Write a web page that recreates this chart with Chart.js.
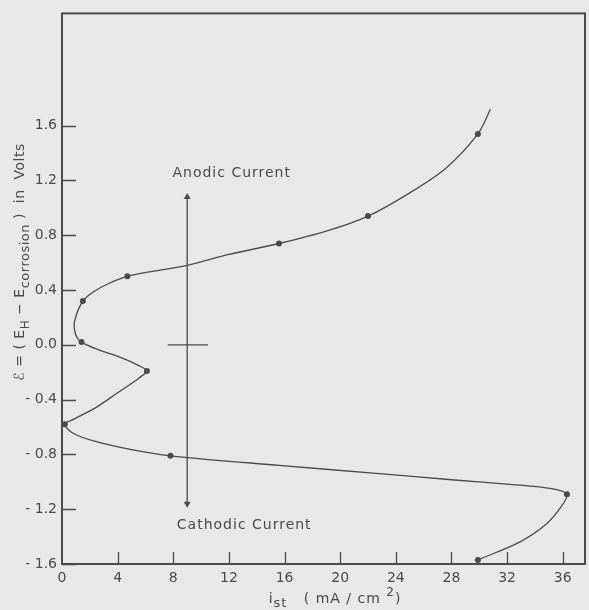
<!DOCTYPE html>
<html>
<head>
<meta charset="utf-8">
<script src="https://cdn.jsdelivr.net/npm/chart.js@4.4.1/dist/chart.umd.min.js"></script>
<style>
    html, body { margin: 0; padding: 0; background: #e8e8e8; }
    #wrap { width: 589px; height: 610px; }
</style>
</head>
<body>
<div id="wrap"><canvas id="c" width="589" height="610"></canvas></div>
<script>
// measured points (dots)
const dotX = [29.9, 22.0, 15.6, 4.7, 1.5, 1.4, 6.1, 0.2, 7.8, 36.3, 29.9];
const dotY = [1.54, 0.94, 0.74, 0.50, 0.32, 0.02, -0.19, -0.58, -0.81, -1.09, -1.57];

// traced curve, in drawing order (top end -> bottom end)
const curveX = [30.8, 29.9, 27.6, 25.0, 22.0, 19.0, 15.6, 12.0, 9.0, 6.7, 4.7, 3.4, 2.3, 1.5,
                0.9, 1.0, 1.4, 2.6, 4.3, 5.6, 6.1, 5.5, 4.0, 2.4, 0.9, 0.2, 0.8, 2.4, 5.0, 7.8,
                15.6, 22.8, 28.0, 32.4, 35.2, 36.3, 35.9, 34.8, 32.9, 29.9];
const curveY = [1.72, 1.54, 1.29, 1.11, 0.94, 0.83, 0.74, 0.66, 0.58, 0.54, 0.50, 0.45, 0.39, 0.32,
                0.17, 0.07, 0.02, -0.035, -0.095, -0.155, -0.19, -0.245, -0.35, -0.46, -0.54, -0.58, -0.645, -0.705, -0.765, -0.81,
                -0.88, -0.94, -0.985, -1.02, -1.05, -1.09, -1.18, -1.31, -1.44, -1.57];

// tick labels
const xTicks = [0, 4, 8, 12, 16, 20, 24, 28, 32, 36];
const yTicks = [-1.6, -1.2, -0.8, -0.4, 0.0, 0.4, 0.8, 1.2, 1.6];

// current direction arrow and zero marker
const arrowX = [9.0, 9.0];
const arrowY = [-1.16, 1.08];
const crossX = [7.6, 10.5];
const crossY = [0, 0];

const ink = '#4a4a4a';
const fontFam = '"DejaVu Sans", sans-serif';

const toPts = (xs, ys) => xs.map((v, i) => ({ x: v, y: ys[i] }));

// frame, inner ticks and texts
const decorations = {
    id: 'decorations',
    afterDraw(chart) {
        const { ctx, chartArea: a, scales: { x, y } } = chart;
        ctx.save();
        ctx.strokeStyle = ink;
        ctx.lineWidth = 2;
        ctx.strokeRect(a.left, a.top, a.right - a.left, a.bottom - a.top);

        ctx.lineWidth = 1.3;
        ctx.beginPath();
        xTicks.forEach(v => {
            if (v === 0) return;
            const px = Math.round(x.getPixelForValue(v)) + 0.5;
            ctx.moveTo(px, a.bottom);
            ctx.lineTo(px, a.bottom - 12);
        });
        yTicks.forEach(v => {
            const py = Math.round(y.getPixelForValue(v)) + 0.5;
            ctx.moveTo(a.left, py);
            ctx.lineTo(a.left + 14, py);
        });
        ctx.stroke();

        ctx.fillStyle = ink;
        ctx.textAlign = 'center';
        ctx.textBaseline = 'middle';
        ctx.font = '14px ' + fontFam;
        ctx.letterSpacing = '1px';
        ctx.fillText('Anodic Current', x.getPixelForValue(12.2), y.getPixelForValue(1.25));
        ctx.fillText('Cathodic Current', x.getPixelForValue(13.1), y.getPixelForValue(-1.32));

        // pieces of text: [string, baseline shift, size]
        const drawParts = (parts, cx, cy) => {
            let total = 0;
            parts.forEach(p => { ctx.font = p[2] + 'px ' + fontFam; total += ctx.measureText(p[0]).width; });
            let cur = cx - total / 2;
            ctx.textAlign = 'left';
            ctx.textBaseline = 'alphabetic';
            parts.forEach(p => {
                ctx.font = p[2] + 'px ' + fontFam;
                ctx.fillText(p[0], cur, cy + p[1]);
                cur += ctx.measureText(p[0]).width;
            });
        };

        // y axis title (rotated)
        ctx.save();
        ctx.translate(24, 262);
        ctx.rotate(-Math.PI / 2);
        ctx.letterSpacing = '0.5px';
        drawParts([
            ['\u2130 = ( E', 0, 14],
            ['H', 5, 12],
            [' \u2212 E', 0, 14],
            ['corrosion', 5, 13],
            [' )  in  Volts', 0, 14]
        ], 0, 0);
        ctx.restore();

        // x axis title
        ctx.letterSpacing = '1px';
        drawParts([
            ['i', 0, 14],
            ['st', 4, 13],
            ['   ( mA / cm ', 0, 14],
            ['2', -7, 12],
            [')', 0, 14]
        ], 335, 603);

        ctx.restore();
    }
};

new Chart(document.getElementById('c'), {
    type: 'scatter',
    data: {
        datasets: [
            {
                data: toPts(curveX, curveY),
                showLine: true,
                tension: 0.3,
                borderColor: ink,
                borderWidth: 1.3,
                pointRadius: 0
            },
            {
                data: toPts(dotX, dotY),
                pointRadius: 3,
                pointBackgroundColor: ink,
                pointBorderWidth: 0
            },
            {
                data: toPts(arrowX, arrowY),
                showLine: true,
                borderColor: ink,
                borderWidth: 1.3,
                pointStyle: 'triangle',
                pointRadius: 4,
                pointRotation: [180, 0],
                pointBackgroundColor: ink,
                pointBorderWidth: 0
            },
            {
                data: toPts(crossX, crossY),
                showLine: true,
                borderColor: ink,
                borderWidth: 1.2,
                pointRadius: 0
            }
        ]
    },
    options: {
        responsive: false,
        animation: false,
        devicePixelRatio: 1,
        layout: { padding: { top: 11, right: 3, left: 0, bottom: 0 } },
        plugins: { legend: { display: false }, tooltip: { enabled: false } },
        scales: {
            x: {
                type: 'linear',
                min: 0,
                max: 37.6,
                grid: { display: false, drawTicks: false },
                border: { display: false },
                afterBuildTicks: s => { s.ticks = xTicks.map(v => ({ value: v })); },
                afterFit: s => { s.height = 46; },
                ticks: {
                    color: ink,
                    font: { family: fontFam, size: 14 },
                    padding: 6,
                    maxRotation: 0,
                    autoSkip: false,
                    callback: v => String(v)
                }
            },
            y: {
                type: 'linear',
                min: -1.6,
                max: 2.42,
                grid: { display: false, drawTicks: false },
                border: { display: false },
                afterBuildTicks: s => { s.ticks = yTicks.map(v => ({ value: v })); },
                afterFit: s => { s.width = 62; },
                ticks: {
                    color: ink,
                    font: { family: fontFam, size: 14 },
                    padding: 5,
                    autoSkip: false,
                    callback: v => v < 0 ? '- ' + Math.abs(v).toFixed(1) : v.toFixed(1)
                }
            }
        }
    },
    plugins: [decorations]
});
</script>
</body>
</html>
